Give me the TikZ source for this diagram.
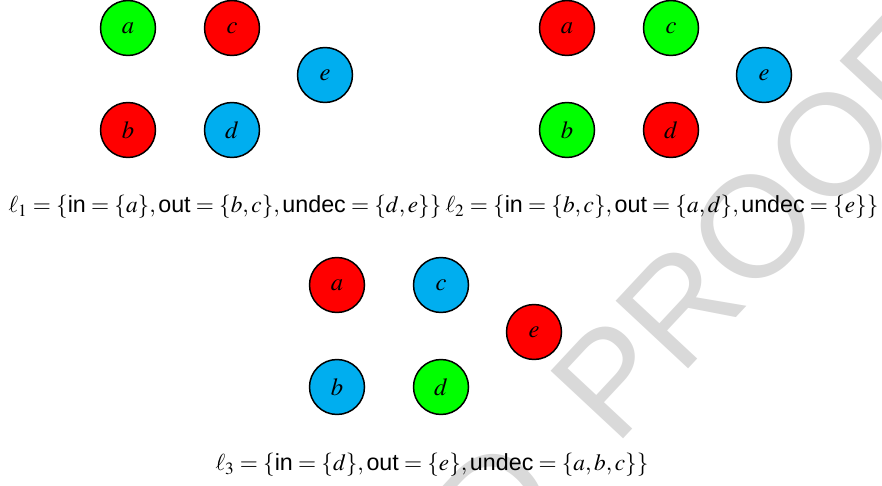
\documentclass[tikz,border=0pt]{standalone}
\usepackage{mathptmx}
\usepackage{fontspec}
\setmainfont{Liberation Serif}
\setsansfont{Liberation Sans}
\usepackage{tikz}
\usetikzlibrary{positioning}
\definecolor{inCol}{RGB}{0,255,0}
\definecolor{outCol}{RGB}{255,0,0}
\definecolor{undecCol}{RGB}{0,174,239}
\definecolor{wmGray}{RGB}{217,217,217}
\tikzset{
  arg/.style={
    circle, draw=black, line width=0.85pt, fill=#1,
    minimum size=1.1cm, inner sep=0pt, font=\fontsize{14}{16}\selectfont,
  },
  labeling/.style={
    inner sep=0pt, font=\fontsize{13.25}{15}\selectfont,
  },
  watermark/.style={
    text=wmGray, inner sep=0pt, rotate=47,
    font=\fontsize{82}{84}\selectfont\sffamily,
  },
}

\begin{document}
\begin{tikzpicture}[x=0.02cm, y=-0.02cm]

\clip (0,0) rectangle (882,486);

\coordinate (wmP) at (615,448);
\node[watermark, anchor=base east] (wmD) at (wmP) {D\rule{0.48em}{0pt}};
\node[watermark, anchor=base west] (wm) at (wmP) {PROOF};

\foreach \p/\px/\py/\ca/\cb/\cc/\cd/\ce in {%
  1/128/28/inCol/outCol/outCol/undecCol/undecCol,%
  2/567/28/outCol/inCol/inCol/outCol/undecCol,%
  3/337/285/outCol/undecCol/undecCol/inCol/outCol%
}
{
  \node[arg=\ca] (a\p) at (\px,\py) {$a$};
  \node[arg=\cc] (c\p) at ({\px+104},\py) {$c$};
  \node[arg=\ce] (e\p) at ({\px+197},{\py+47}) {$e$};
  \node[arg=\cb] (b\p) at (\px,{\py+102}) {$b$};
  \node[arg=\cd] (d\p) at ({\px+104},{\py+102}) {$d$};
}

\node[labeling] (l1) at (225,207)
  {$\ell_1=\{\textsf{in}=\{a\},\textsf{out}=\{b,c\},\textsf{undec}=\{d,e\}\}$};
\node[labeling] (l2) at (662,207)
  {$\ell_2=\{\textsf{in}=\{b,c\},\textsf{out}=\{a,d\},\textsf{undec}=\{e\}\}$};
\node[labeling] (l3) at (432,465)
  {$\ell_3=\{\textsf{in}=\{d\},\textsf{out}=\{e\},\textsf{undec}=\{a,b,c\}\}$};

\end{tikzpicture}
\end{document}
